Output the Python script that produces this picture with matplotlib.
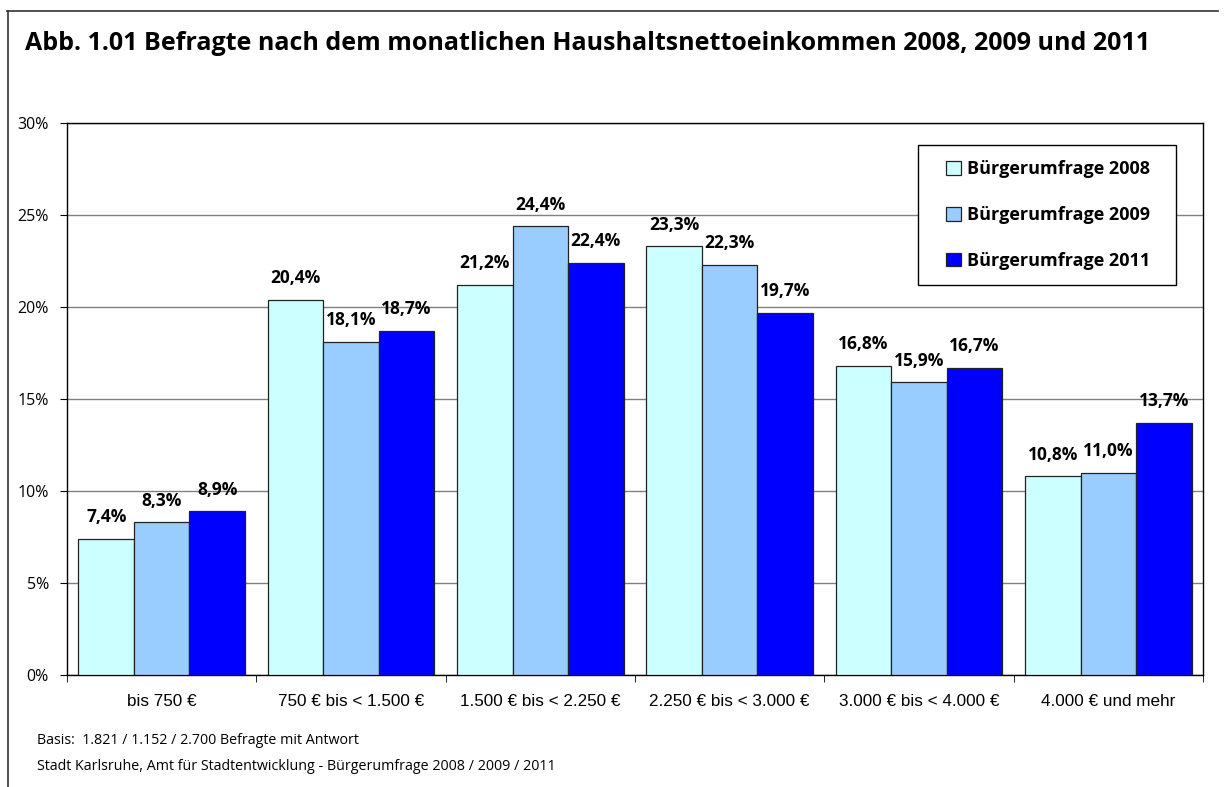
import matplotlib
matplotlib.use("Agg")
import matplotlib.pyplot as plt
from matplotlib.lines import Line2D
from matplotlib.patches import Rectangle
import numpy as np

categories = ["bis 750 €", "750 € bis < 1.500 €", "1.500 € bis < 2.250 €",
              "2.250 € bis < 3.000 €", "3.000 € bis < 4.000 €", "4.000 € und mehr"]
series_names = ["Bürgerumfrage 2008", "Bürgerumfrage 2009", "Bürgerumfrage 2011"]
values_2008 = [7.4, 20.4, 21.2, 23.3, 16.8, 10.8]
values_2009 = [8.3, 18.1, 24.4, 22.3, 15.9, 11.0]
values_2011 = [8.9, 18.7, 22.4, 19.7, 16.7, 13.7]
yticks = [0, 5, 10, 15, 20, 25, 30]
title = "Abb. 1.01 Befragte nach dem monatlichen Haushaltsnettoeinkommen 2008, 2009 und 2011"
footer1 = "Basis:  1.821 / 1.152 / 2.700 Befragte mit Antwort"
footer2 = "Stadt Karlsruhe, Amt für Stadtentwicklung - Bürgerumfrage 2008 / 2009 / 2011"

colors = ["#CCFFFF", "#99CCFF", "#0000FF"]

W, H = 1228, 787
fig = plt.figure(figsize=(W / 100, H / 100), dpi=100)
fig.patch.set_facecolor("white")

# outer frame lines (top and left)
fig.add_artist(Line2D([7 / W, 1218 / W], [1 - 10.5 / H, 1 - 10.5 / H], color="#333333", lw=1.2))
fig.add_artist(Line2D([7.5 / W, 7.5 / W], [0, 1 - 10.5 / H], color="#333333", lw=1.2))

fig.text(25 / W, 1 - 43 / H, title, fontsize=18, fontweight="bold", family="Open Sans",
         ha="left", va="center", color="black")

left, right, top, bottom = 67, 1203, 123, 675
ax = fig.add_axes([left / W, 1 - bottom / H, (right - left) / W, (bottom - top) / H])

x = np.arange(len(categories))
bw = 0.293
all_vals = [values_2008, values_2009, values_2011]
for i, (vals, c, name) in enumerate(zip(all_vals, colors, series_names)):
    pos = x + (i - 1) * bw
    ax.bar(pos, vals, width=bw, color=c, edgecolor="#222222", linewidth=0.9, label=name, zorder=3)
    for p, v in zip(pos, vals):
        ax.annotate(f"{v:.1f}%".replace(".", ","), (p, v), xytext=(0, 15.5), textcoords="offset points",
                    ha="center", va="center", fontsize=12.5, fontweight="bold", family="Open Sans",
                    zorder=5)

ax.set_xlim(-0.5, len(categories) - 0.5)
ax.set_ylim(0, 30)
ax.set_yticks(yticks)
ax.set_yticklabels([f"{t}%" for t in yticks], family="Open Sans", fontsize=11.5)
ax.set_xticks(np.arange(len(categories) + 1) - 0.5, minor=True)
ax.set_xticks(x)
ax.set_xticklabels(categories, family="Liberation Sans", fontsize=12.3)
ax.tick_params(axis="x", which="major", length=0, pad=14)
ax.tick_params(axis="x", which="minor", length=5, direction="out", color="black")
ax.tick_params(axis="y", length=5, direction="out", color="black", pad=8)
ax.grid(axis="y", color="#808080", linewidth=1.0, zorder=0)
for s in ["left", "bottom", "top", "right"]:
    ax.spines[s].set_color("black")
    ax.spines[s].set_linewidth(1.0)

# legend frame and legend
bx0, bx1 = (918 - left) / (right - left), (1176 - left) / (right - left)
by0, by1 = (bottom - 285) / (bottom - top), (bottom - 145) / (bottom - top)
ax.add_patch(Rectangle((bx0, by0), bx1 - bx0, by1 - by0, transform=ax.transAxes,
                       facecolor="white", edgecolor="black", linewidth=1.0, zorder=9))
leg = ax.legend(loc="center", bbox_to_anchor=((bx0 + bx1) / 2 + 0.001, (by0 + by1) / 2),
                prop={"family": "Open Sans", "weight": "bold", "size": 13},
                frameon=False, handlelength=0.83, handleheight=0.78, handletextpad=0.3,
                labelspacing=1.55, borderpad=0, borderaxespad=0)
leg.set_zorder(10)

fig.text(37 / W, 1 - 741 / H, footer1, fontsize=10.3, family="Open Sans", ha="left", va="center")
fig.text(37 / W, 1 - 767 / H, footer2, fontsize=10.3, family="Open Sans", ha="left", va="center")

fig.savefig("out.png", dpi=100, facecolor="white")
